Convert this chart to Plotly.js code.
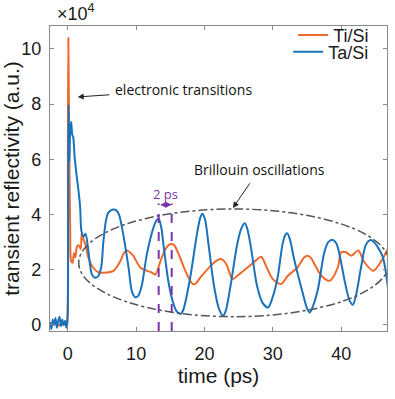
<!DOCTYPE html>
<html>
<head>
<meta charset="utf-8">
<script src="https://cdn.plot.ly/plotly-3.0.1.min.js"></script>
<style>html,body{margin:0;padding:0;background:#fff;}#chart{width:395px;height:399px;}</style>
</head>
<body>
<div id="chart"></div>
<script>
// time (ps) and transient reflectivity (units of 1e4, a.u.)
var tiSiTime = [-2.6,-2.2,-1.8,-1.4,-1.0,-0.6,-0.2,-0.05,0.02,0.08,0.2,0.35,0.5,0.7,0.9,1.1,1.3,1.5,1.7,1.9,2.05,2.3,2.6,3.0,3.7,4.5,5.7,6.7,7.6,8.2,8.6,9.0,9.6,10.6,11.6,12.3,12.8,13.5,14.3,14.8,15.2,15.6,16.2,17.2,18.2,18.6,19.4,20.9,21.9,22.4,22.9,23.3,24.1,24.8,26.3,27.5,28.3,29.0,30.0,31.2,32.2,33.6,34.6,35.1,35.6,36.1,37.1,38.3,39.5,40.0,40.7,41.5,42.5,43.4,44.7,45.9,46.9];
var tiSiValue = [0.05,0.0,0.08,-0.03,0.05,0.0,0.05,0.3,6.5,10.4,7.0,3.5,2.3,2.25,2.6,2.45,2.8,2.9,2.85,2.75,3.36,3.1,2.9,2.45,2.08,1.9,1.9,1.96,2.27,2.6,2.7,2.65,2.5,2.08,1.96,1.9,1.82,2.27,2.75,2.9,2.93,2.88,2.58,1.96,1.5,1.48,1.72,2.14,2.35,2.39,2.3,2.14,1.66,1.78,2.08,2.33,2.47,2.14,1.66,1.48,1.78,2.08,2.45,2.51,2.42,2.2,1.78,1.6,2.08,2.63,2.63,2.51,2.7,2.27,1.96,2.33,2.8];
var taSiTime = [-2.6,-2.4,-2.2,-2.0,-1.8,-1.6,-1.4,-1.2,-1.0,-0.8,-0.6,-0.4,-0.2,-0.05,0.05,0.12,0.22,0.35,0.5,0.65,0.8,1.0,1.3,1.5,1.8,2.0,2.3,2.6,3.0,3.3,3.5,3.9,4.4,4.9,5.2,5.6,5.9,6.6,7.1,7.5,8.1,8.9,9.4,9.9,10.3,10.8,11.6,12.5,13.0,13.3,13.7,14.0,14.7,15.3,15.9,16.5,16.9,17.9,18.9,19.4,19.7,20.1,20.6,21.4,22.1,22.7,23.1,23.8,24.8,25.4,25.9,26.3,26.8,27.7,28.5,29.3,29.9,30.7,31.4,31.8,32.1,32.5,33.1,34.4,35.0,35.4,35.9,36.6,37.5,38.1,38.8,39.3,39.8,40.5,41.2,41.7,42.1,42.9,43.6,44.3,44.8,45.4,46.1,46.9];
var taSiValue = [0.1,-0.15,0.2,0.0,0.25,-0.1,0.15,0.3,-0.05,0.2,0.0,0.15,-0.1,0.1,4.5,7.96,5.9,7.0,7.36,6.9,6.8,6.1,5.4,5.0,4.3,3.4,3.2,3.3,2.7,2.1,1.85,1.72,1.75,2.1,3.0,3.8,4.05,4.18,4.15,4.0,3.3,2.07,1.2,1.0,1.05,1.4,2.6,3.5,3.8,3.85,3.5,2.9,1.6,0.9,0.5,0.4,0.55,1.7,3.3,3.9,4.03,3.8,2.9,1.4,0.6,0.33,0.5,1.4,2.94,3.5,3.68,3.45,2.8,1.4,0.8,0.63,0.95,1.72,2.9,3.25,3.32,3.1,2.4,1.13,0.6,0.45,0.7,1.3,2.6,3.0,3.08,2.95,2.5,1.6,0.9,0.73,1.0,2.08,2.9,3.08,3.0,2.8,2.45,1.24];
var seriesNames = ['Ti/Si', 'Ta/Si'];
var xTickVals = [0, 10, 20, 30, 40];
var yTickVals = [0, 2, 4, 6, 8, 10];
// annotation geometry (data units)
var ellipseX = [1.6, 47.0];
var ellipseY = [0.3, 4.2];
var periodMarks = [13.3, 15.2];
var periodArrowY = 4.35;

var sans = 'Liberation Sans, Arial, sans-serif';
var tickFont = {family: sans, size: 18, color: '#1a1a1a'};
var titleFont = {family: sans, size: 21, color: '#1a1a1a'};
var noteFont = {family: 'Open Sans, sans-serif', size: 14, color: '#111'};
var purple = '#7B35A8';

var traces = [
  {x: tiSiTime, y: tiSiValue, name: seriesNames[0], type: 'scatter', mode: 'lines',
   line: {color: '#EE6A2C', width: 2, shape: 'spline', smoothing: 0.8}, legend: 'legend'},
  {x: taSiTime, y: taSiValue, name: seriesNames[1], type: 'scatter', mode: 'lines',
   line: {color: '#1A72BB', width: 2, shape: 'spline', smoothing: 0.8}, legend: 'legend2'}
];

var axisCommon = {showline: true, mirror: 'ticks', linecolor: '#8a8a8a', linewidth: 1.2,
  ticks: 'inside', ticklen: 4, tickcolor: '#8a8a8a', showgrid: false, zeroline: false,
  tickfont: tickFont};

var legendFont = {family: sans, size: 18, color: '#1a1a1a'};

var layout = {
  width: 395, height: 399,
  margin: {l: 50, r: 8, t: 26, b: 68},
  paper_bgcolor: '#fff', plot_bgcolor: '#fff',
  font: tickFont,
  xaxis: Object.assign({}, axisCommon, {range: [-2.6, 46.7], tickvals: xTickVals,
    ticktext: xTickVals.map(String), ticklabelstandoff: 6,
    title: {text: 'time (ps)', font: titleFont, standoff: 2}}),
  yaxis: Object.assign({}, axisCommon, {range: [-0.22, 10.83], tickvals: yTickVals,
    ticktext: yTickVals.map(String), ticklabelstandoff: 4,
    title: {text: 'transient reflectivity (a.u.)', font: titleFont, standoff: 6}}),
  showlegend: true,
  legend: {x: 0.962, xanchor: 'right', y: 1.03, yanchor: 'top', bgcolor: 'rgba(255,255,255,0)', borderwidth: 0, font: legendFont},
  legend2: {x: 0.962, xanchor: 'right', y: 0.975, yanchor: 'top', bgcolor: 'rgba(255,255,255,0)', borderwidth: 0, font: legendFont},
  shapes: [
    {type: 'circle', xref: 'x', yref: 'y', x0: ellipseX[0], x1: ellipseX[1], y0: ellipseY[0], y1: ellipseY[1],
     line: {color: '#555', width: 1.5, dash: 'dashdot'}},
    {type: 'line', xref: 'x', yref: 'y', x0: periodMarks[0], x1: periodMarks[0], y0: -0.22, y1: periodArrowY + 0.05,
     line: {color: purple, width: 2, dash: 'dash'}},
    {type: 'line', xref: 'x', yref: 'y', x0: periodMarks[1], x1: periodMarks[1], y0: -0.22, y1: periodArrowY + 0.05,
     line: {color: purple, width: 2, dash: 'dash'}}
  ],
  annotations: [
    {xref: 'paper', yref: 'paper', x: 0.015, y: 1.0, xanchor: 'left', yanchor: 'bottom', showarrow: false,
     text: '×10<sup>4</sup>', font: {family: sans, size: 18, color: '#1a1a1a'}},
    {xref: 'x', yref: 'y', axref: 'x', ayref: 'y', x: 1.46, y: 8.26, ax: 16.9, ay: 8.52,
     text: 'electronic transitions', font: noteFont, showarrow: true, startstandoff: 4,
     arrowhead: 2, arrowsize: 1.2, arrowwidth: 1, arrowcolor: '#222'},
    {xref: 'x', yref: 'y', axref: 'x', ayref: 'y', x: 24.16, y: 4.24, ax: 28.0, ay: 5.62,
     text: 'Brillouin oscillations', font: noteFont, showarrow: true, startstandoff: 3,
     arrowhead: 2, arrowsize: 1.2, arrowwidth: 1, arrowcolor: '#222'},
    {xref: 'x', yref: 'y', x: (periodMarks[0] + periodMarks[1]) / 2, y: 4.75, showarrow: false,
     text: '2 ps', font: {family: 'Open Sans, sans-serif', size: 13, color: purple}},
    {xref: 'x', yref: 'y', axref: 'x', ayref: 'y', x: periodMarks[1], y: periodArrowY, ax: periodMarks[0], ay: periodArrowY, text: '',
     showarrow: true, arrowhead: 2, arrowside: 'end+start', arrowsize: 0.8, arrowwidth: 1.5, arrowcolor: purple}
  ]
};

Plotly.newPlot('chart', traces, layout, {displayModeBar: false, staticPlot: true});
</script>
</body>
</html>
